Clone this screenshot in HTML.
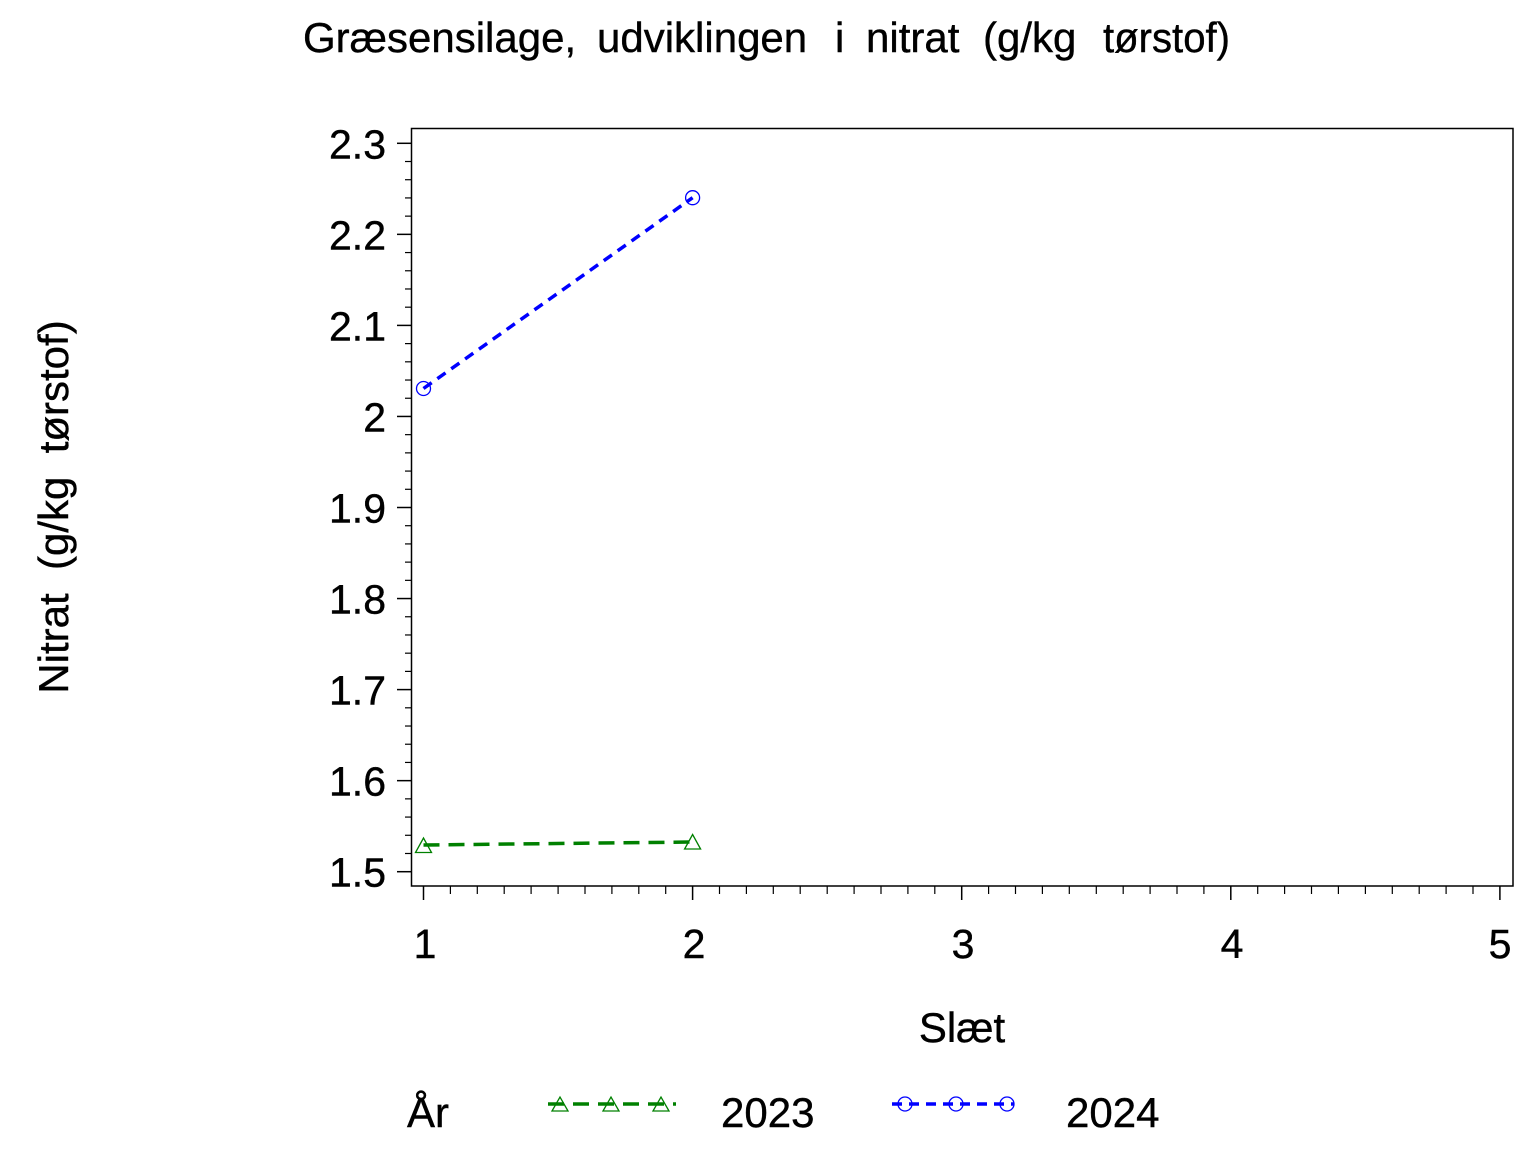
<!DOCTYPE html>
<html>
<head>
<meta charset="utf-8">
<style>
html,body{margin:0;padding:0;background:#fff;}
svg{display:block;}
text{font-family:"Liberation Sans",Arial,sans-serif;fill:#000;stroke:#000;stroke-width:0.4px;}
</style>
</head>
<body>
<svg width="1536" height="1152" viewBox="0 0 1536 1152" xmlns="http://www.w3.org/2000/svg">
<rect x="0" y="0" width="1536" height="1152" fill="#fff"/>

<!-- Title -->
<text y="52" font-size="42">
<tspan x="303">Græsensilage,</tspan><tspan x="597">udviklingen</tspan><tspan x="835">i</tspan><tspan x="866">nitrat</tspan><tspan x="983">(g/kg</tspan><tspan x="1103" textLength="127" lengthAdjust="spacingAndGlyphs">tørstof)</tspan>
</text>

<!-- Frame -->
<rect x="411.5" y="128.5" width="1101.5" height="757.5" fill="none" stroke="#000" stroke-width="1.5"/>

<!-- Y ticks -->
<g stroke="#000" stroke-width="1.5">
<line x1="397" y1="871.7" x2="411" y2="871.7"/>
<line x1="397" y1="780.65" x2="411" y2="780.65"/>
<line x1="397" y1="689.6" x2="411" y2="689.6"/>
<line x1="397" y1="598.55" x2="411" y2="598.55"/>
<line x1="397" y1="507.5" x2="411" y2="507.5"/>
<line x1="397" y1="416.45" x2="411" y2="416.45"/>
<line x1="397" y1="325.4" x2="411" y2="325.4"/>
<line x1="397" y1="234.35" x2="411" y2="234.35"/>
<line x1="397" y1="143.3" x2="411" y2="143.3"/>
</g>
<g stroke="#000" stroke-width="1.2">
<line x1="405" y1="853.49" x2="411" y2="853.49"/><line x1="405" y1="835.28" x2="411" y2="835.28"/><line x1="405" y1="817.07" x2="411" y2="817.07"/><line x1="405" y1="798.86" x2="411" y2="798.86"/>
<line x1="405" y1="762.44" x2="411" y2="762.44"/><line x1="405" y1="744.23" x2="411" y2="744.23"/><line x1="405" y1="726.02" x2="411" y2="726.02"/><line x1="405" y1="707.81" x2="411" y2="707.81"/>
<line x1="405" y1="671.39" x2="411" y2="671.39"/><line x1="405" y1="653.18" x2="411" y2="653.18"/><line x1="405" y1="634.97" x2="411" y2="634.97"/><line x1="405" y1="616.76" x2="411" y2="616.76"/>
<line x1="405" y1="580.34" x2="411" y2="580.34"/><line x1="405" y1="562.13" x2="411" y2="562.13"/><line x1="405" y1="543.92" x2="411" y2="543.92"/><line x1="405" y1="525.71" x2="411" y2="525.71"/>
<line x1="405" y1="489.29" x2="411" y2="489.29"/><line x1="405" y1="471.08" x2="411" y2="471.08"/><line x1="405" y1="452.87" x2="411" y2="452.87"/><line x1="405" y1="434.66" x2="411" y2="434.66"/>
<line x1="405" y1="398.24" x2="411" y2="398.24"/><line x1="405" y1="380.03" x2="411" y2="380.03"/><line x1="405" y1="361.82" x2="411" y2="361.82"/><line x1="405" y1="343.61" x2="411" y2="343.61"/>
<line x1="405" y1="307.19" x2="411" y2="307.19"/><line x1="405" y1="288.98" x2="411" y2="288.98"/><line x1="405" y1="270.77" x2="411" y2="270.77"/><line x1="405" y1="252.56" x2="411" y2="252.56"/>
<line x1="405" y1="216.14" x2="411" y2="216.14"/><line x1="405" y1="197.93" x2="411" y2="197.93"/><line x1="405" y1="179.72" x2="411" y2="179.72"/><line x1="405" y1="161.51" x2="411" y2="161.51"/>
</g>

<!-- Y tick labels -->
<g font-size="41" text-anchor="end">
<text x="386" y="886.5">1.5</text>
<text x="386" y="795.5">1.6</text>
<text x="386" y="704.5">1.7</text>
<text x="386" y="613.5">1.8</text>
<text x="386" y="522.5">1.9</text>
<text x="386" y="431.5">2</text>
<text x="386" y="340.5">2.1</text>
<text x="386" y="249.5">2.2</text>
<text x="386" y="158.5">2.3</text>
</g>

<!-- X ticks -->
<g stroke="#000" stroke-width="1.5">
<line x1="423.5" y1="886" x2="423.5" y2="900"/>
<line x1="692.6" y1="886" x2="692.6" y2="900"/>
<line x1="961.7" y1="886" x2="961.7" y2="900"/>
<line x1="1230.8" y1="886" x2="1230.8" y2="900"/>
<line x1="1499.9" y1="886" x2="1499.9" y2="900"/>
</g>
<g stroke="#000" stroke-width="1.2">
<line x1="450.4" y1="886" x2="450.4" y2="894"/><line x1="477.3" y1="886" x2="477.3" y2="894"/><line x1="504.2" y1="886" x2="504.2" y2="894"/><line x1="531.1" y1="886" x2="531.1" y2="894"/><line x1="558.1" y1="886" x2="558.1" y2="894"/><line x1="585.0" y1="886" x2="585.0" y2="894"/><line x1="611.9" y1="886" x2="611.9" y2="894"/><line x1="638.8" y1="886" x2="638.8" y2="894"/><line x1="665.7" y1="886" x2="665.7" y2="894"/>
<line x1="719.5" y1="886" x2="719.5" y2="894"/><line x1="746.4" y1="886" x2="746.4" y2="894"/><line x1="773.3" y1="886" x2="773.3" y2="894"/><line x1="800.2" y1="886" x2="800.2" y2="894"/><line x1="827.2" y1="886" x2="827.2" y2="894"/><line x1="854.1" y1="886" x2="854.1" y2="894"/><line x1="881.0" y1="886" x2="881.0" y2="894"/><line x1="907.9" y1="886" x2="907.9" y2="894"/><line x1="934.8" y1="886" x2="934.8" y2="894"/>
<line x1="988.6" y1="886" x2="988.6" y2="894"/><line x1="1015.5" y1="886" x2="1015.5" y2="894"/><line x1="1042.4" y1="886" x2="1042.4" y2="894"/><line x1="1069.3" y1="886" x2="1069.3" y2="894"/><line x1="1096.3" y1="886" x2="1096.3" y2="894"/><line x1="1123.2" y1="886" x2="1123.2" y2="894"/><line x1="1150.1" y1="886" x2="1150.1" y2="894"/><line x1="1177.0" y1="886" x2="1177.0" y2="894"/><line x1="1203.9" y1="886" x2="1203.9" y2="894"/>
<line x1="1257.7" y1="886" x2="1257.7" y2="894"/><line x1="1284.6" y1="886" x2="1284.6" y2="894"/><line x1="1311.5" y1="886" x2="1311.5" y2="894"/><line x1="1338.4" y1="886" x2="1338.4" y2="894"/><line x1="1365.4" y1="886" x2="1365.4" y2="894"/><line x1="1392.3" y1="886" x2="1392.3" y2="894"/><line x1="1419.2" y1="886" x2="1419.2" y2="894"/><line x1="1446.1" y1="886" x2="1446.1" y2="894"/><line x1="1473.0" y1="886" x2="1473.0" y2="894"/>
</g>

<!-- X tick labels -->
<g font-size="41" text-anchor="middle">
<text x="425" y="958">1</text>
<text x="694" y="958">2</text>
<text x="963" y="958">3</text>
<text x="1232" y="958">4</text>
<text x="1500" y="958">5</text>
</g>

<!-- X axis label -->
<text x="962" y="1042" font-size="42" text-anchor="middle">Slæt</text>

<!-- Y axis label -->
<text transform="translate(68,507) rotate(-90)" font-size="42" text-anchor="middle" xml:space="preserve" style="white-space:pre">Nitrat  (g/kg  tørstof)</text>

<!-- Series 2023 -->
<line x1="423.5" y1="845" x2="692.6" y2="842" stroke="#008000" stroke-width="3.5" stroke-dasharray="16 9"/>
<polygon points="415.5,852.5 431.5,852.5 423.5,838" fill="none" stroke="#008000" stroke-width="1.3"/>
<polygon points="684.6,849 700.6,849 692.6,834.5" fill="none" stroke="#008000" stroke-width="1.3"/>

<!-- Series 2024 -->
<line x1="423.5" y1="388.5" x2="692.6" y2="197.7" stroke="#0000ff" stroke-width="3.5" stroke-dasharray="10 7"/>
<circle cx="423.5" cy="388.5" r="7" fill="none" stroke="#0000ff" stroke-width="1.3"/>
<circle cx="692.6" cy="197.7" r="7" fill="none" stroke="#0000ff" stroke-width="1.3"/>

<!-- Legend -->
<text x="407" y="1127" font-size="42">År</text>
<line x1="548" y1="1104" x2="676" y2="1104" stroke="#008000" stroke-width="3.5" stroke-dasharray="16 9"/>
<polygon points="552,1111 568,1111 560,1097" fill="none" stroke="#008000" stroke-width="1.3"/>
<polygon points="603,1111 619,1111 611,1097" fill="none" stroke="#008000" stroke-width="1.3"/>
<polygon points="653,1111 669,1111 661,1097" fill="none" stroke="#008000" stroke-width="1.3"/>
<text x="721" y="1127" font-size="42">2023</text>
<line x1="892" y1="1104" x2="1014" y2="1104" stroke="#0000ff" stroke-width="3.5" stroke-dasharray="10 7"/>
<circle cx="905" cy="1104" r="7" fill="none" stroke="#0000ff" stroke-width="1.3"/>
<circle cx="956" cy="1104" r="7" fill="none" stroke="#0000ff" stroke-width="1.3"/>
<circle cx="1007" cy="1104" r="7" fill="none" stroke="#0000ff" stroke-width="1.3"/>
<text x="1066" y="1127" font-size="42">2024</text>
</svg>
</body>
</html>
